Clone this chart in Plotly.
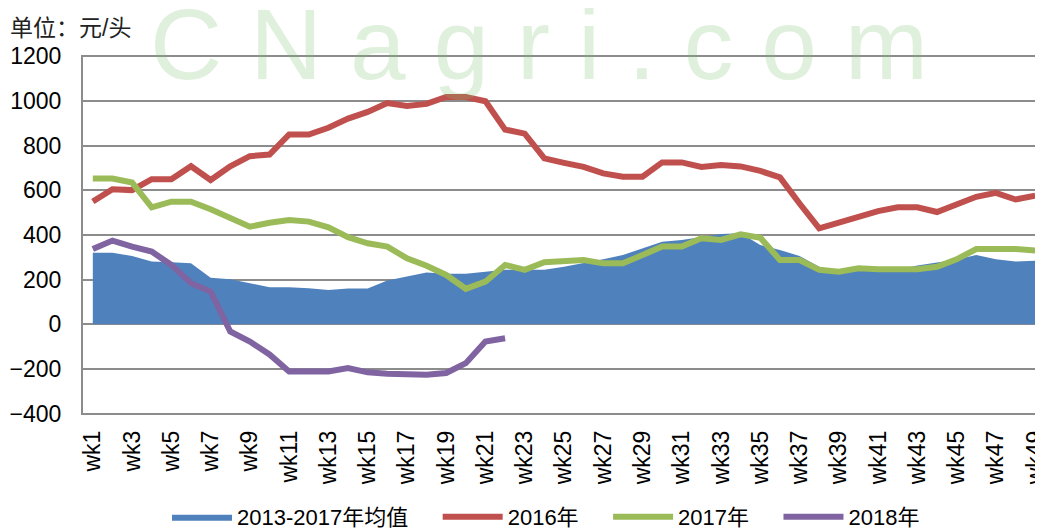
import plotly.graph_objects as go

weeks = [f"wk{i}" for i in range(1, 50)]
tick_weeks = weeks[::2]

avg_2013_2017 = [321, 321, 306, 281, 278, 273, 209, 202, 184, 166,
                 166, 162, 154, 160, 160, 196, 214, 232, 226, 226,
                 236, 244, 244, 244, 258, 273, 291, 310, 340, 370,
                 378, 390, 404, 408, 355, 333, 306, 258, 236, 245,
                 245, 245, 263, 278, 290, 310, 291, 281, 285]

y2016 = [550, 605, 601, 650, 650, 708, 646, 708, 753, 760,
         850, 850, 880, 921, 951, 991, 978, 987, 1018, 1018,
         999, 872, 854, 743, 723, 705, 676, 661, 661, 725,
         725, 705, 713, 707, 687, 658, 541, 430, 455, 482,
         507, 524, 524, 503, 537, 571, 589, 559, 576]

y2017 = [653, 653, 635, 524, 549, 549, 515, 475, 437, 455,
         467, 460, 434, 390, 363, 348, 296, 262, 221, 159,
         191, 266, 244, 278, 285, 288, 273, 273, 310, 348,
         348, 385, 378, 403, 388, 288, 288, 244, 236, 251,
         247, 247, 247, 258, 291, 337, 337, 337, 330]

y2018 = [337, 375, 348, 326, 266, 184, 147, -32, -77, -135,
         -211, -211, -211, -196, -215, -221, -226, -226, -218, -174,
         -77, -62]

names = ["2013-2017年均值", "2016年", "2017年", "2018年"]
colors = ["#4F81BD", "#C0504D", "#9BBB59", "#8064A2"]
unit_label = "单位：元/头"
watermark = "C N a g r i . c o m"

FONT = "Arial, 'Liberation Sans', 'Noto Sans CJK SC', sans-serif"
PAD = "\u00a0\u00a0\u00a0\u00a0"

# figure is offset by the page's 8px body margin, so it is sized 1035x522
FW, FH = 1035, 522
T, B, L = 47, 115, 75
PH = FH - T - B
PW = FW - L

fig = go.Figure()
fig.add_trace(go.Scatter(x=weeks, y=avg_2013_2017, name=names[0] + PAD, mode="lines",
                         fill="tozeroy", fillcolor=colors[0],
                         line=dict(width=0, color=colors[0])))
fig.add_trace(go.Scatter(x=weeks, y=y2016, name=names[1] + PAD, mode="lines",
                         line=dict(width=6, color=colors[1])))
fig.add_trace(go.Scatter(x=weeks, y=y2017, name=names[2] + PAD, mode="lines",
                         line=dict(width=6, color=colors[2])))
fig.add_trace(go.Scatter(x=weeks[:len(y2018)], y=y2018, name=names[3] + PAD, mode="lines",
                         line=dict(width=6, color=colors[3])))

fig.update_layout(
    width=FW, height=FH,
    margin=dict(l=L, r=0, t=T, b=B, autoexpand=False),
    paper_bgcolor="white", plot_bgcolor="white",
    font=dict(family=FONT, size=22, color="#000000"),
    legend=dict(orientation="h", x=(550 - L) / PW, xanchor="center",
                y=(PH - (509 - T)) / PH, yanchor="middle",
                font=dict(size=22), bgcolor="rgba(0,0,0,0)", itemwidth=60,
                traceorder="normal"),
    showlegend=True,
)

fig.update_xaxes(type="category", categoryorder="array", categoryarray=weeks,
                 range=[-0.5, 48.4], tickvals=tick_weeks, ticktext=tick_weeks,
                 tickangle=-90, tickfont=dict(size=23), showgrid=False,
                 showline=False, ticks="", ticklabelstandoff=10, automargin=False)
fig.update_yaxes(range=[-406, 1206], tickvals=list(range(-400, 1201, 200)),
                 tickfont=dict(size=23),
                 showgrid=True, gridcolor="#8C8C8C", gridwidth=2,
                 zeroline=True, zerolinecolor="#8C8C8C", zerolinewidth=2,
                 showline=True, linecolor="#8C8C8C", linewidth=2,
                 ticks="", ticklabelstandoff=15, automargin=False)

fig.add_annotation(text=unit_label, xref="paper", yref="paper",
                   x=(0 - L) / PW, y=1 + (T - 20) / PH, xanchor="left", yanchor="middle",
                   showarrow=False, font=dict(size=23, color="#222222"))

fig.add_annotation(text=watermark, xref="paper", yref="paper",
                   x=(531 - L) / PW, y=1 + (T + 22) / PH, xanchor="center", yanchor="top",
                   showarrow=False,
                   font=dict(size=100, color="rgba(120,195,110,0.24)",
                             family="Arial, 'Liberation Sans', sans-serif"))

fig.write_html("out.html")
